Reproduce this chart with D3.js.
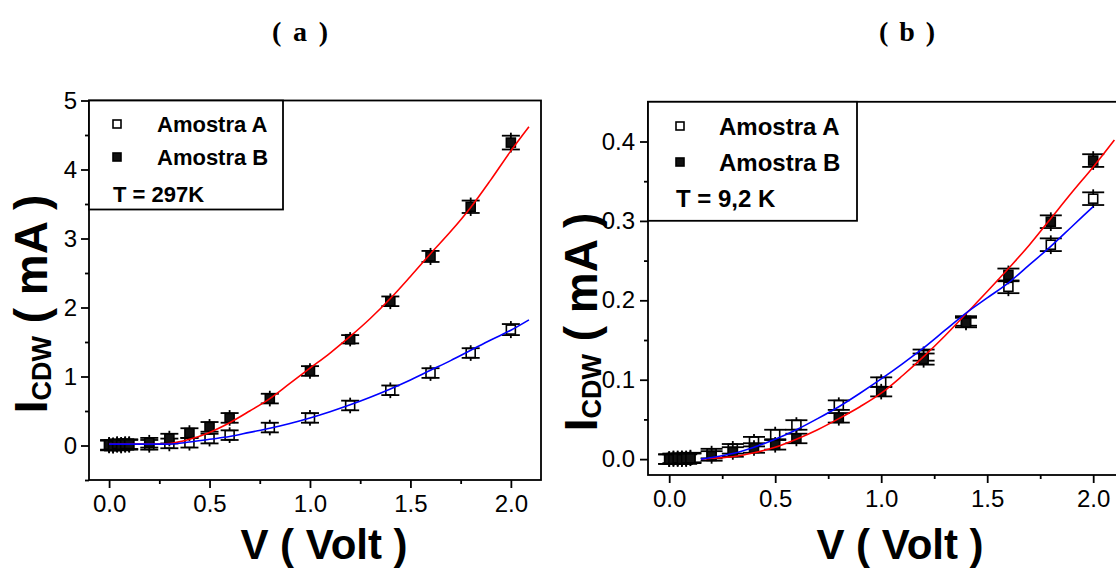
<!DOCTYPE html>
<html>
<head>
<meta charset="utf-8">
<script src="https://cdn.jsdelivr.net/npm/d3@7"></script>
<style>
  body { margin: 0; background: #fff; }
  svg { display: block; font-family: "Liberation Sans", Arial, sans-serif; }
</style>
</head>
<body>
<svg id="chart" width="1116" height="569"></svg>
<script>
// measured points (same voltages for both samples and both panels)
var volts = [0, 0.02, 0.04, 0.06, 0.08, 0.1, 0.2, 0.3, 0.4, 0.5, 0.6, 0.8, 1.0, 1.2, 1.4, 1.6, 1.8, 2.0];

// panel (a), T = 297K, current in mA
var roomA = [0.00, 0.00, 0.01, 0.00, 0.01, 0.01, 0.01, 0.03, 0.04, 0.10, 0.15, 0.26, 0.40, 0.58, 0.80, 1.05, 1.34, 1.68];
var roomB = [0.01, 0.00, 0.02, 0.01, 0.02, 0.02, 0.04, 0.10, 0.18, 0.27, 0.40, 0.68, 1.08, 1.54, 2.09, 2.74, 3.46, 4.39];
var roomErrA = [0.07, 0.07, 0.07, 0.07, 0.07, 0.07, 0.07, 0.07, 0.07, 0.07, 0.07, 0.07, 0.07, 0.07, 0.07, 0.07, 0.07, 0.08];
var roomErrB = [0.07, 0.07, 0.07, 0.07, 0.07, 0.07, 0.07, 0.07, 0.07, 0.07, 0.07, 0.07, 0.07, 0.06, 0.07, 0.08, 0.09, 0.10];

// panel (b), T = 9,2 K
var coldA = [0.000, 0.001, 0.000, 0.001, 0.000, 0.002, 0.007, 0.013, 0.022, 0.031, 0.043, 0.068, 0.097, 0.131, 0.174, 0.217, 0.270, 0.328];
var coldB = [0.000, 0.000, 0.001, 0.000, 0.001, 0.001, 0.004, 0.009, 0.014, 0.018, 0.026, 0.052, 0.085, 0.126, 0.172, 0.232, 0.299, 0.376];
var coldErrA = [0.006, 0.006, 0.006, 0.006, 0.006, 0.006, 0.006, 0.006, 0.006, 0.006, 0.006, 0.006, 0.006, 0.007, 0.006, 0.008, 0.008, 0.008];
var coldErrB = [0.006, 0.006, 0.006, 0.006, 0.006, 0.006, 0.006, 0.006, 0.006, 0.006, 0.006, 0.006, 0.006, 0.007, 0.006, 0.008, 0.008, 0.008];

// fitted curves
var roomFitVolts = [0, 0.1, 0.2, 0.3, 0.4, 0.5, 0.6, 0.7, 0.8, 0.9, 1.0, 1.1, 1.2, 1.3, 1.4, 1.5, 1.6, 1.7, 1.8, 1.9, 2.0, 2.09];
var roomFitA = [0.02, 0.02, 0.02, 0.02, 0.05, 0.09, 0.13, 0.19, 0.25, 0.32, 0.40, 0.49, 0.59, 0.70, 0.82, 0.95, 1.09, 1.23, 1.38, 1.53, 1.67, 1.82];
var roomFitB = [0.02, 0.02, 0.02, 0.03, 0.09, 0.19, 0.33, 0.50, 0.68, 0.90, 1.12, 1.34, 1.58, 1.84, 2.13, 2.45, 2.78, 3.10, 3.45, 3.85, 4.27, 4.62];

var coldFitVoltsA = [0.15, 0.2, 0.3, 0.4, 0.5, 0.6, 0.7, 0.8, 0.9, 1.0, 1.1, 1.2, 1.3, 1.4, 1.5, 1.6, 1.7, 1.8, 1.9, 2.0];
var coldFitA = [0, 0.002, 0.007, 0.015, 0.025, 0.037, 0.051, 0.066, 0.083, 0.101, 0.120, 0.140, 0.162, 0.184, 0.203, 0.222, 0.245, 0.268, 0.293, 0.318];
var coldFitVoltsB = [0.15, 0.2, 0.3, 0.4, 0.5, 0.6, 0.7, 0.8, 0.9, 1.0, 1.1, 1.2, 1.3, 1.4, 1.5, 1.6, 1.7, 1.8, 1.9, 2.0, 2.1];
var coldFitB = [0, 0.001, 0.003, 0.008, 0.015, 0.025, 0.037, 0.051, 0.066, 0.083, 0.105, 0.129, 0.155, 0.183, 0.211, 0.240, 0.270, 0.303, 0.336, 0.368, 0.402];

// ticks
var xMajor = [0, 0.5, 1.0, 1.5, 2.0];
var xMinor = [0.25, 0.75, 1.25, 1.75];
var roomYMajor = [0, 1, 2, 3, 4, 5];
var roomYMinor = [-0.5, 0.5, 1.5, 2.5, 3.5, 4.5];
var coldYMajor = [0, 0.1, 0.2, 0.3, 0.4];
var coldYMinor = [0.05, 0.15, 0.25, 0.35];

var svg = d3.select("#chart");


/**
 * Draw one panel: frame, axes, markers with error bars, fit lines and legend box
 */
function drawPanel(p) {

    var g = svg.append("g");
    var x = p.x, y = p.y;
    var x0 = x.range()[0], x1 = x.range()[1];
    var yb = y.range()[0], yt = y.range()[1];

    // minor ticks first, then the labelled ones
    g.append("g").attr("transform", "translate(0," + yb + ")")
        .call(d3.axisBottom(x).tickValues(xMinor).tickSize(4).tickFormat(""));
    g.append("g").attr("transform", "translate(0," + yb + ")")
        .call(d3.axisBottom(x).tickValues(xMajor).tickSize(8).tickPadding(7).tickFormat(d3.format(".1f")));
    g.append("g").attr("transform", "translate(" + x0 + ",0)")
        .call(d3.axisLeft(y).tickValues(p.yMinor).tickSize(4).tickFormat(""));
    g.append("g").attr("transform", "translate(" + x0 + ",0)")
        .call(d3.axisLeft(y).tickValues(p.yMajor).tickSize(8).tickPadding(p.yPad).tickFormat(p.yFormat));

    g.selectAll(".domain").remove();
    g.selectAll(".tick line").attr("stroke", "#000").attr("stroke-width", 1.8);
    g.selectAll(".tick text").attr("font-size", 24).attr("fill", "#000")
        .attr("font-family", "'Liberation Sans', Arial, sans-serif");

    // frame
    g.append("rect")
        .attr("x", x0).attr("y", yt)
        .attr("width", x1 - x0).attr("height", yb - yt)
        .attr("fill", "none").attr("stroke", "#000").attr("stroke-width", 1.8);

    // error bars + markers, sample A then B
    [{v: p.valA, e: p.errA, filled: false}, {v: p.valB, e: p.errB, filled: true}].forEach(function (s) {
        var pts = volts.map(function (d, i) { return {v: d, i: s.v[i], e: s.e[i]}; });
        var m = g.append("g");
        var bars = m.selectAll("g.err").data(pts).enter().append("g")
            .attr("stroke", "#000").attr("stroke-width", 1.8);
        bars.append("line")
            .attr("x1", function (d) { return x(d.v); }).attr("x2", function (d) { return x(d.v); })
            .attr("y1", function (d) { return y(d.i - d.e) + 3; }).attr("y2", function (d) { return y(d.i + d.e) - 3; });
        bars.append("line")
            .attr("x1", function (d) { return x(d.v) - p.cap; }).attr("x2", function (d) { return x(d.v) + p.cap; })
            .attr("y1", function (d) { return y(d.i - d.e); }).attr("y2", function (d) { return y(d.i - d.e); });
        bars.append("line")
            .attr("x1", function (d) { return x(d.v) - p.cap; }).attr("x2", function (d) { return x(d.v) + p.cap; })
            .attr("y1", function (d) { return y(d.i + d.e); }).attr("y2", function (d) { return y(d.i + d.e); });
        m.selectAll("rect").data(pts).enter().append("rect")
            .attr("x", function (d) { return x(d.v) - 4.5; })
            .attr("y", function (d) { return y(d.i) - 4.5; })
            .attr("width", 9).attr("height", 9)
            .attr("fill", s.filled ? "#111" : "#fff")
            .attr("stroke", "#000").attr("stroke-width", 1.6);
    });

    // fit lines on top
    var line = d3.line()
        .x(function (d) { return x(d[0]); })
        .y(function (d) { return y(d[1]); })
        .curve(d3.curveMonotoneX);
    g.append("path")
        .datum(p.fitVoltsB.map(function (d, i) { return [d, p.fitB[i]]; }))
        .attr("d", line).attr("fill", "none").attr("stroke", "#ff0000").attr("stroke-width", 1.6);
    g.append("path")
        .datum(p.fitVoltsA.map(function (d, i) { return [d, p.fitA[i]]; }))
        .attr("d", line).attr("fill", "none").attr("stroke", "#0000ff").attr("stroke-width", 1.6);

    // legend box
    var L = p.legend;
    g.append("rect")
        .attr("x", x0).attr("y", yt)
        .attr("width", L.w).attr("height", L.h)
        .attr("fill", "#fff").attr("stroke", "#000").attr("stroke-width", 1.8);
    g.append("rect").attr("x", L.sx - 4).attr("y", L.rows[0] - 4).attr("width", 8).attr("height", 8)
        .attr("fill", "#fff").attr("stroke", "#000").attr("stroke-width", 1.6);
    g.append("rect").attr("x", L.sx - 4).attr("y", L.rows[1] - 4).attr("width", 8).attr("height", 8)
        .attr("fill", "#111").attr("stroke", "#000").attr("stroke-width", 1.6);
    ["Amostra A", "Amostra B"].forEach(function (t, i) {
        g.append("text").attr("x", L.tx).attr("y", L.rows[i]).attr("dy", "0.36em")
            .attr("font-size", L.fs).attr("font-weight", "bold").text(t);
    });
    g.append("text").attr("x", L.tempX).attr("y", L.rows[2]).attr("dy", "0.36em")
        .attr("font-size", L.fs).attr("font-weight", "bold").text(p.temp);

    // axis titles
    g.append("text")
        .attr("x", p.xTitleX).attr("y", 559)
        .attr("text-anchor", "middle").attr("font-size", 42).attr("font-weight", "bold")
        .text("V ( Volt )");

    var yt2 = g.append("text")
        .attr("transform", "translate(" + p.yTitleX + "," + p.yTitleY + ") rotate(-90)")
        .attr("text-anchor", "middle").attr("font-size", 46).attr("font-weight", "bold");
    yt2.append("tspan").text("I");
    yt2.append("tspan").attr("font-size", 27).attr("dy", 4).text("CDW");
    yt2.append("tspan").attr("dy", -4).text(" ( mA )");

    svg.append("text")
        .attr("x", p.titleX).attr("y", 41)
        .attr("text-anchor", "middle")
        .style("font-family", "'Liberation Serif', 'Times New Roman', serif")
        .attr("font-size", 28).attr("font-weight", "bold")
        .attr("textLength", 56).attr("lengthAdjust", "spacing")
        .text(p.title);
}


drawPanel({
    x: d3.scaleLinear().domain([-0.1, 2.15]).range([89, 541]),
    y: d3.scaleLinear().domain([-0.5, 5]).range([480, 100.5]),
    yMajor: roomYMajor, yMinor: roomYMinor, yFormat: d3.format("d"), yPad: 4,
    valA: roomA, valB: roomB, errA: roomErrA, errB: roomErrB, cap: 9,
    fitVoltsA: roomFitVolts, fitA: roomFitA, fitVoltsB: roomFitVolts, fitB: roomFitB,
    legend: {w: 194, h: 109, sx: 117, tx: 157, tempX: 113, rows: [124, 157, 194], fs: 22},
    temp: "T = 297K",
    xTitleX: 324, yTitleX: 47, yTitleY: 304,
    title: "( a )", titleX: 300
});

drawPanel({
    x: d3.scaleLinear().domain([-0.1, 2.15]).range([648, 1125]),
    y: d3.scaleLinear().domain([-0.02, 0.45]).range([475, 101.8]),
    yMajor: coldYMajor, yMinor: coldYMinor, yFormat: d3.format(".1f"), yPad: 5,
    valA: coldA, valB: coldB, errA: coldErrA, errB: coldErrB, cap: 11,
    fitVoltsA: coldFitVoltsA, fitA: coldFitA, fitVoltsB: coldFitVoltsB, fitB: coldFitB,
    legend: {w: 209, h: 119, sx: 680, tx: 719, tempX: 676, rows: [126, 162, 198], fs: 24},
    temp: "T = 9,2 K",
    xTitleX: 900, yTitleX: 597, yTitleY: 322,
    title: "( b )", titleX: 907
});
</script>
</body>
</html>
